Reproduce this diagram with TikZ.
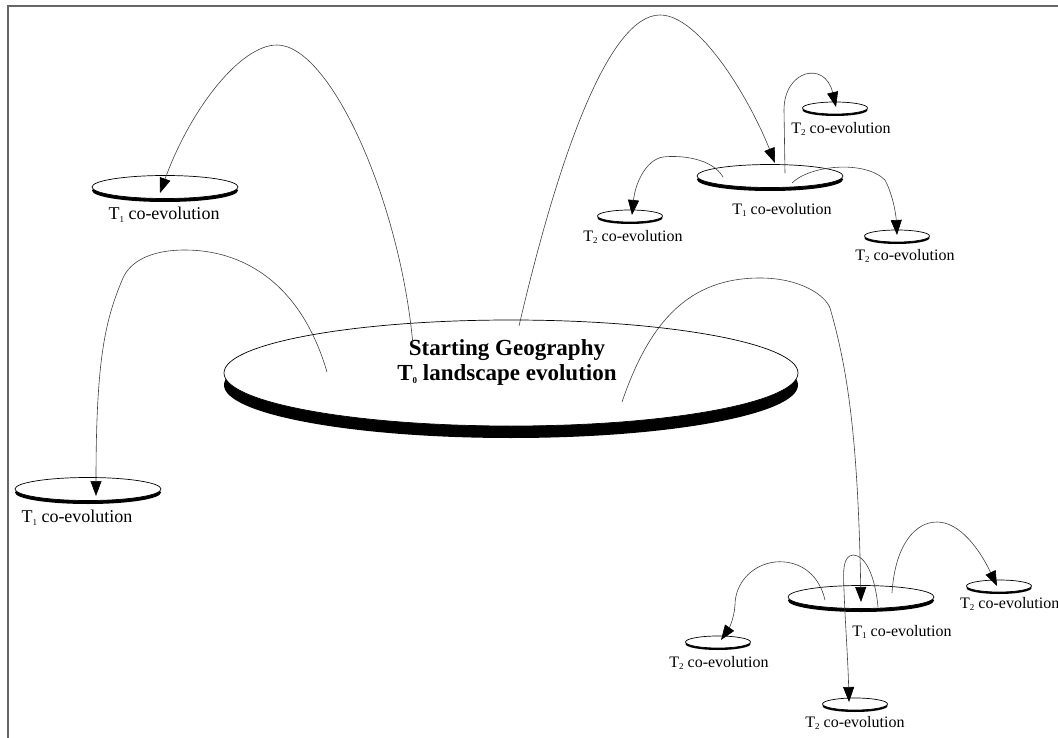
\documentclass[tikz,border=0pt]{standalone}
\usepackage{fontspec}
\setmainfont{Liberation Serif}
\usetikzlibrary{arrows.meta,shapes.geometric,shadows}

% subscript index of a time step
\newcommand\tidx[1]{\raisebox{-0.35ex}{\fontsize{9}{9}\selectfont #1}}

\tikzset{
  disk/.style={ellipse, draw=black, line width=0.7pt, fill=white, inner sep=0pt,
    drop shadow={shadow xshift=0pt, shadow yshift=-#1, fill=black, opacity=1}},
  bigdisk/.style={disk=12pt, minimum width=574pt, minimum height=106pt},
  tonedisk/.style={disk=3.5pt, minimum width=146pt, minimum height=23pt},
  ttwodisk/.style={disk=2pt, minimum width=65pt, minimum height=12pt},
  lbl/.style={font=\fontsize{16}{18}\selectfont, inner sep=0pt},
  biglbl/.style={font=\fontsize{18}{20}\selectfont, inner sep=0pt},
  maintext/.style={font=\fontsize{23}{25}\selectfont\bfseries, align=center, inner sep=0pt},
  conn/.style={draw=black!75, line width=0.6pt,
    -{Triangle[length=15pt,width=11pt,color=black]}},
  frameline/.style={draw=black!60, line width=1.2pt}
}

\begin{document}
\begin{tikzpicture}[x=1pt,y=-1pt]
\useasboundingbox (0,0) rectangle (1058,738);

% page frame (top and left edges only)
\coordinate (f0) at (8,738);
\coordinate (f1) at (8,6);
\coordinate (f2) at (1058,6);
\draw[frameline] (f0) -- (f1) -- (f2);

% starting geography
\node[bigdisk] (main) at (511,373) {};
\node[maintext] (mtxt) at (507,362) {Starting Geography\\T\tidx{\bfseries 0} landscape evolution};

% first generation disks
\node[tonedisk] (A) at (165,187) {};
\node[tonedisk] (B) at (88,489) {};
\node[tonedisk] (C) at (770,176) {};
\node[tonedisk] (G) at (861,597) {};

% second generation disks
\node[ttwodisk] (D) at (630,216) {};
\node[ttwodisk] (E) at (835,108) {};
\node[ttwodisk] (F) at (897,236) {};
\node[ttwodisk] (H) at (718,642) {};
\node[ttwodisk] (I) at (999,586) {};
\node[ttwodisk] (J) at (855,704) {};

% labels
\node[biglbl] (lA) at (164,215) {T\tidx{1} co-evolution};
\node[biglbl] (lB) at (77,518) {T\tidx{1} co-evolution};
\node[lbl] (lC) at (782,210) {T\tidx{1} co-evolution};
\node[lbl] (lG) at (902,632) {T\tidx{1} co-evolution};
\node[lbl] (lD) at (633,237) {T\tidx{2} co-evolution};
\node[lbl] (lE) at (841,129) {T\tidx{2} co-evolution};
\node[lbl] (lF) at (905,256) {T\tidx{2} co-evolution};
\node[lbl] (lH) at (719,663) {T\tidx{2} co-evolution};
\node[lbl,anchor=west] (lI) at (960,604) {T\tidx{2} co-evolution};
\node[lbl] (lJ) at (855,723) {T\tidx{2} co-evolution};

% connector end points
\coordinate (m1) at (413,345);  \coordinate (a1) at (160,193);
\coordinate (m2) at (327,372);  \coordinate (b1) at (96,496);
\coordinate (m3) at (519,326);  \coordinate (c1) at (775,163);
\coordinate (m4) at (622,402);  \coordinate (g1) at (861,602);
\coordinate (ce) at (785,173);  \coordinate (e1) at (836,107);
\coordinate (cd) at (723,177);  \coordinate (d1) at (632,215);
\coordinate (cf) at (792,183);  \coordinate (f1t) at (897,235);
\coordinate (gh) at (825,600);  \coordinate (h1) at (721,640);
\coordinate (gi) at (892,593);  \coordinate (i1) at (997,586);
\coordinate (gj) at (878,607);  \coordinate (j1) at (849,702);

% main geography to first generation
\draw[conn] (m1) .. controls (400,200) and (330,45) .. (277,45)
                 .. controls (240,45) and (190,110) .. (a1);
\draw[conn] (m2) .. controls (300,280) and (240,250) .. (185,250)
                 .. controls (150,250) and (130,262) .. (123,278)
                 .. controls (105,320) and (96,360) .. (b1);
\draw[conn] (m3) .. controls (560,150) and (610,15) .. (660,15)
                 .. controls (700,15) and (750,100) .. (c1);
\draw[conn] (m4) .. controls (650,320) and (690,278) .. (760,278)
                 .. controls (800,278) and (825,295) .. (830,308)
                 .. controls (848,370) and (858,440) .. (g1);

% first generation to second generation (upper group)
\draw[conn] (ce) -- (784,110) .. controls (784,70) and (825,60) .. (e1);
\draw[conn] (cd) .. controls (712,158) and (680,155) .. (663,157)
                 .. controls (645,160) and (635,185) .. (d1);
\draw[conn] (cf) .. controls (810,165) and (865,160) .. (885,180)
                 .. controls (893,195) and (896,215) .. (f1t);

% first generation to second generation (lower group)
\draw[conn] (gh) .. controls (818,570) and (795,560) .. (775,562)
                 .. controls (750,565) and (735,585) .. (735,605)
                 .. controls (734,620) and (728,630) .. (h1);
\draw[conn] (gi) .. controls (895,545) and (915,522) .. (937,522)
                 .. controls (960,522) and (980,550) .. (i1);
\draw[conn] (gj) .. controls (875,575) and (865,555) .. (853,555)
                 .. controls (843,556) and (843,570) .. (844,590)
                 .. controls (845,620) and (848,660) .. (j1);
\end{tikzpicture}
\end{document}
